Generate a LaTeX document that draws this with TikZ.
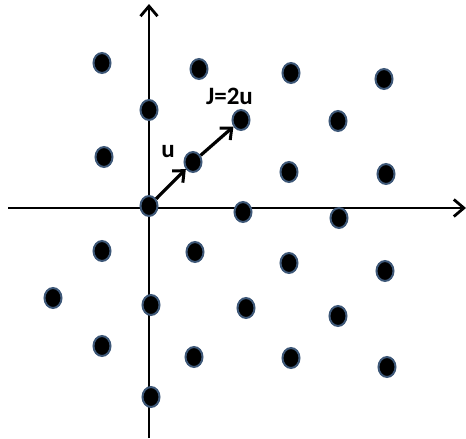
\documentclass[tikz,border=0pt]{standalone}
\usepackage{fontspec}
\setmainfont{Carlito}
\usetikzlibrary{shapes.geometric,arrows.meta}
\definecolor{dotedge}{RGB}{62,88,120}
\tikzset{
  dot/.style={ellipse,fill=black,draw=dotedge,line width=2pt,minimum width=17pt,minimum height=20pt,inner sep=0pt},
  axis/.style={line width=2.8pt,-{Straight Barb[length=10pt,width=17pt,line width=2.8pt]}},
  vec/.style={line width=3.2pt,-{Straight Barb[length=9pt,width=16pt,line width=3pt]}},
  lbl/.style={font=\bfseries\fontsize{25}{25}\selectfont,inner sep=0pt}
}
\begin{document}
\begin{tikzpicture}[x=1pt,y=-1pt]
\useasboundingbox (0,0) rectangle (466,439);
\coordinate (xl) at (8,208);
\coordinate (xr) at (466,208);
\coordinate (yb) at (149,438);
\coordinate (yt) at (149,4);
\draw[axis] (xl) -- (xr);
\draw[axis] (yb) -- (yt);
% dots
\node[dot] (d1) at (102,63) {};
\node[dot] (d2) at (199,69) {};
\node[dot] (d3) at (291,73) {};
\node[dot] (d4) at (384,79) {};
\node[dot] (d5) at (149,110) {};
\node[dot] (J) at (241,120) {};
\node[dot] (d7) at (338,121) {};
\node[dot] (d8) at (104,157) {};
\node[dot] (u) at (193,162) {};
\node[dot] (d10) at (289,172) {};
\node[dot] (d11) at (386,174) {};
\node[dot] (o) at (149,206) {};
\node[dot] (d13) at (243,212) {};
\node[dot] (d14) at (339,218) {};
\node[dot] (d15) at (102,251) {};
\node[dot] (d16) at (195,252) {};
\node[dot] (d17) at (289,263) {};
\node[dot] (d18) at (385,271) {};
\node[dot] (d19) at (53,298) {};
\node[dot] (d20) at (151,305) {};
\node[dot] (d21) at (246,308) {};
\node[dot] (d22) at (338,316) {};
\node[dot] (d23) at (102,346) {};
\node[dot] (d24) at (194,357) {};
\node[dot] (d25) at (291,358) {};
\node[dot] (d26) at (387,367) {};
\node[dot] (d27) at (151,397) {};
% vectors
\draw[vec] (o) -- (u);
\draw[vec] (u) -- (J);
% labels
\node[lbl] (lu) at (168,152) {u};
\node[lbl] (lJ) at (229.5,96) {J=2u};
\end{tikzpicture}
\end{document}
